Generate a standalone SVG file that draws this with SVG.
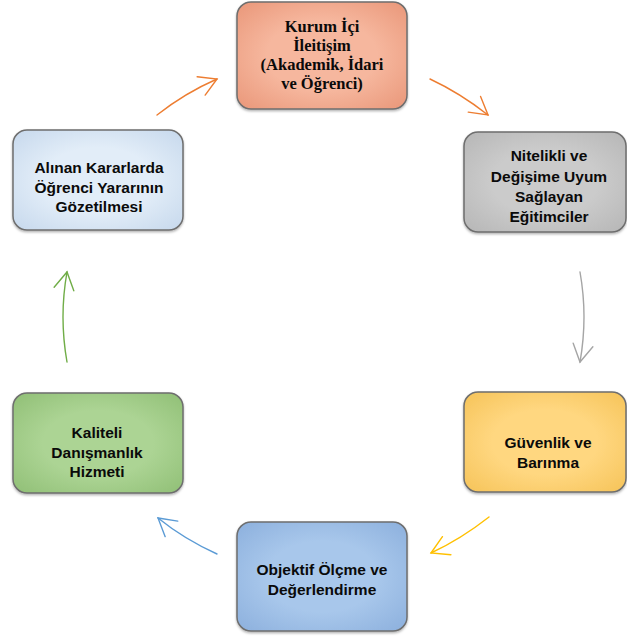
<svg xmlns="http://www.w3.org/2000/svg" width="627" height="638" viewBox="0 0 627 638">
<style>
.box{stroke:#6e6e6e;stroke-width:1.5;filter:url(#sh)}
.t{font-family:"Liberation Sans",Arial,sans-serif;font-weight:bold;font-size:15.5px;fill:#0a0a0a;text-anchor:middle}
.ts{font-family:"Liberation Serif","Times New Roman",serif;font-weight:bold;font-size:16.5px;fill:#0a0a0a;text-anchor:middle}
.c{fill:none;stroke-width:1.4;stroke-linecap:round}
</style>
<defs>
<filter id="sh" x="-10%" y="-10%" width="120%" height="125%"><feDropShadow dx="0" dy="1.5" stdDeviation="1.2" flood-color="#000" flood-opacity="0.3"/></filter>
<radialGradient id="gO" cx="50%" cy="50%" r="65%"><stop offset="0.5" stop-color="#F6B79E"/><stop offset="1" stop-color="#EB9B7E"/></radialGradient>
<radialGradient id="gG" cx="50%" cy="50%" r="65%"><stop offset="0.5" stop-color="#CBCBCB"/><stop offset="1" stop-color="#B9B9B9"/></radialGradient>
<radialGradient id="gY" cx="50%" cy="50%" r="65%"><stop offset="0.5" stop-color="#FFD780"/><stop offset="1" stop-color="#F7C65E"/></radialGradient>
<radialGradient id="gB" cx="50%" cy="50%" r="65%"><stop offset="0.5" stop-color="#A8C7EB"/><stop offset="1" stop-color="#90B3DF"/></radialGradient>
<radialGradient id="gN" cx="50%" cy="50%" r="65%"><stop offset="0.5" stop-color="#ACD494"/><stop offset="1" stop-color="#94C27A"/></radialGradient>
<radialGradient id="gL" cx="50%" cy="50%" r="65%"><stop offset="0.5" stop-color="#E2EDF8"/><stop offset="1" stop-color="#CADBEE"/></radialGradient>
<marker id="mO" markerUnits="userSpaceOnUse" markerWidth="24" markerHeight="24" viewBox="-20 -12 24 24" refX="0" refY="0" orient="auto"><path d="M-17.3,-10 L0,0 L-17.3,10" fill="none" stroke="#ED7D31" stroke-width="1.4" stroke-linecap="round"/></marker>
<marker id="mG" markerUnits="userSpaceOnUse" markerWidth="24" markerHeight="24" viewBox="-20 -12 24 24" refX="0" refY="0" orient="auto"><path d="M-17.3,-10 L0,0 L-17.3,10" fill="none" stroke="#A5A5A5" stroke-width="1.4" stroke-linecap="round"/></marker>
<marker id="mY" markerUnits="userSpaceOnUse" markerWidth="24" markerHeight="24" viewBox="-20 -12 24 24" refX="0" refY="0" orient="auto"><path d="M-17.3,-10 L0,0 L-17.3,10" fill="none" stroke="#FFC000" stroke-width="1.4" stroke-linecap="round"/></marker>
<marker id="mB" markerUnits="userSpaceOnUse" markerWidth="24" markerHeight="24" viewBox="-20 -12 24 24" refX="0" refY="0" orient="auto"><path d="M-17.3,-10 L0,0 L-17.3,10" fill="none" stroke="#5B9BD5" stroke-width="1.4" stroke-linecap="round"/></marker>
<marker id="mN" markerUnits="userSpaceOnUse" markerWidth="24" markerHeight="24" viewBox="-20 -12 24 24" refX="0" refY="0" orient="auto"><path d="M-17.3,-10 L0,0 L-17.3,10" fill="none" stroke="#70AD47" stroke-width="1.4" stroke-linecap="round"/></marker>
</defs>
<rect width="627" height="638" fill="#fff"/>
<g id="connectors">
<path class="c" d="M157,115 Q185,93 217,79" stroke="#ED7D31" marker-end="url(#mO)"/>
<path class="c" d="M430,79 Q460,93 488,115" stroke="#ED7D31" marker-end="url(#mO)"/>
<path class="c" d="M580,272 Q588,317 580,362" stroke="#A5A5A5" marker-end="url(#mG)"/>
<path class="c" d="M489,517 Q461,539 431,553" stroke="#FFC000" marker-end="url(#mY)"/>
<path class="c" d="M217,554 Q184,539 158,518" stroke="#5B9BD5" marker-end="url(#mB)"/>
<path class="c" d="M67,362 Q59,317 67,272" stroke="#70AD47" marker-end="url(#mN)"/>
</g>
<g id="n1">
<rect class="box" x="237" y="2" width="170" height="107" rx="14" fill="url(#gO)"/>
<text class="ts" x="322" y="32">Kurum İçi</text>
<text class="ts" x="322" y="51">İleitişim</text>
<text class="ts" x="322" y="70">(Akademik, İdari</text>
<text class="ts" x="322" y="89">ve Öğrenci)</text>
</g>
<g id="n2">
<rect class="box" x="464" y="132" width="162" height="100" rx="14" fill="url(#gG)"/>
<text class="t" x="549" y="161">Nitelikli ve</text>
<text class="t" x="549" y="182">Değişime Uyum</text>
<text class="t" x="549" y="202">Sağlayan</text>
<text class="t" x="549" y="222">Eğitimciler</text>
</g>
<g id="n3">
<rect class="box" x="464" y="392" width="162" height="100" rx="14" fill="url(#gY)"/>
<text class="t" x="548" y="448">Güvenlik ve</text>
<text class="t" x="548" y="468">Barınma</text>
</g>
<g id="n4">
<rect class="box" x="237" y="522" width="170" height="109" rx="14" fill="url(#gB)"/>
<text class="t" x="322" y="575">Objektif Ölçme ve</text>
<text class="t" x="322" y="595">Değerlendirme</text>
</g>
<g id="n5">
<rect class="box" x="13" y="393" width="170" height="100" rx="14" fill="url(#gN)"/>
<text class="t" x="97" y="438">Kaliteli</text>
<text class="t" x="97" y="458">Danışmanlık</text>
<text class="t" x="97" y="477">Hizmeti</text>
</g>
<g id="n6">
<rect class="box" x="13" y="130" width="170" height="100" rx="14" fill="url(#gL)"/>
<text class="t" x="99" y="173">Alınan Kararlarda</text>
<text class="t" x="99" y="193">Öğrenci Yararının</text>
<text class="t" x="99" y="212">Gözetilmesi</text>
</g>
</svg>
